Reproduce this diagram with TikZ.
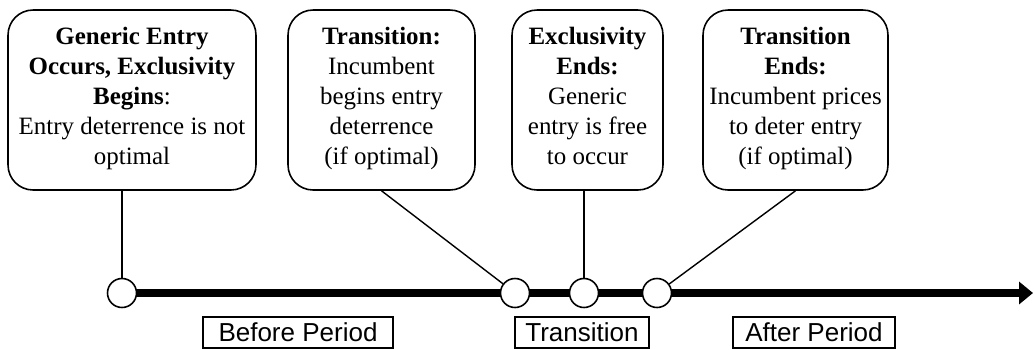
\documentclass[tikz,border=0pt]{standalone}
\usepackage{fontspec}
\setmainfont{Liberation Serif}
\newfontfamily\periodfont{Liberation Sans}
\usetikzlibrary{arrows.meta,backgrounds}
\tikzset{
  eventbox/.style={draw, line width=0.9pt, rounded corners=0.5cm, align=center,
    minimum height=3.6cm, inner sep=2pt, font=\fontsize{14.2pt}{17.1pt}\selectfont,
    execute at begin node=\strut, execute at end node=\strut},
  eventdot/.style={circle, draw, fill=white, line width=0.9pt, minimum size=0.58cm, inner sep=0pt},
  periodbox/.style={draw, line width=0.6pt, minimum height=0.62cm, inner sep=0pt,
    font=\periodfont\fontsize{14.8pt}{17pt}\selectfont},
  timeline/.style={line width=4pt, -{Triangle[length=0.28cm, width=0.44cm]}},
  stem/.style={line width=0.8pt},
}
\begin{document}
\begin{tikzpicture}[x=0.02cm, y=-0.02cm]
  \useasboundingbox (0,0) rectangle (1034,349);
  % event boxes
  \node[eventbox, minimum width=4.96cm] (entry) at (132,100)
    {\textbf{Generic Entry}\\ \textbf{Occurs, Exclusivity}\\ \textbf{Begins}:\\ Entry deterrence is not\\ optimal};
  \node[eventbox, minimum width=3.74cm] (transbegin) at (381.5,100)
    {\textbf{Transition:}\\ Incumbent\\ begins entry\\ deterrence\\ (if optimal)};
  \node[eventbox, minimum width=3.02cm] (exclend) at (587.5,100)
    {\textbf{Exclusivity}\\ \textbf{Ends:}\\ Generic\\ entry is free\\ to occur};
  \node[eventbox, minimum width=3.7cm] (transend) at (795.5,100)
    {\textbf{Transition}\\ \textbf{Ends:}\\ Incumbent prices\\ to deter entry\\ (if optimal)};
  % time line
  \node[eventdot] (d1) at (122,293) {};
  \node[eventdot] (d2) at (515,293) {};
  \node[eventdot] (d3) at (584,293) {};
  \node[eventdot] (d4) at (657,293) {};
  \coordinate (tip) at (1033,293);
  \begin{scope}[on background layer]
    \draw[timeline] (d1.center) -- (tip);
  \end{scope}
  % stems
  \draw[stem] (d1 |- entry.south) -- (d1);
  \draw[stem] (transbegin.south) -- (d2);
  \draw[stem] (d3 |- exclend.south) -- (d3);
  \draw[stem] (transend.south) -- (d4);
  % periods
  \node[periodbox, minimum width=3.8cm] (before) at (298,332.5) {Before Period};
  \node[periodbox, minimum width=2.68cm] (trans) at (582,332.5) {Transition};
  \node[periodbox, minimum width=3.24cm] (after) at (814,332.5) {After Period};
\end{tikzpicture}
\end{document}
